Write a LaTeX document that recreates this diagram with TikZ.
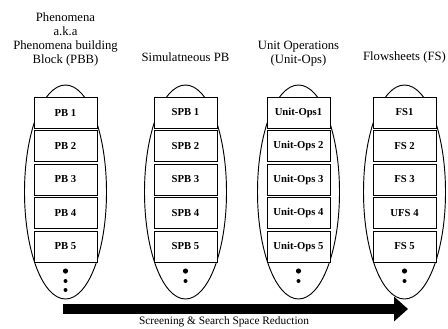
\documentclass[tikz,border=0pt]{standalone}
\usepackage{fontspec}
\setmainfont{Liberation Serif}
\usetikzlibrary{shapes.geometric,arrows.meta}
\tikzset{
  group/.style={draw, ellipse, line width=0.7pt, minimum width=61.5pt, minimum height=160.5pt, inner sep=0pt},
  pbox/.style={draw, fill=white, line width=0.7pt, minimum width=47.25pt, minimum height=23.25pt, inner sep=0pt, font=\fontsize{8}{9}\selectfont\bfseries},
  title/.style={align=center, font=\fontsize{9.5}{10.5}\selectfont},
}
\begin{document}
\begin{tikzpicture}[x=0.75pt,y=-0.75pt]
      \useasboundingbox (0,0) rectangle (448,328);
      % Phenomena building blocks
      \node[title] (t1) at (65.5,39) {Phenomena\\a.k.a\\Phenomena building\\Block (PBB)};
      \node[group] (e1) at (65.5,192) {};
      \foreach \lab [count=\i] in {PB 1,PB 2,PB 3,PB 4,PB 5}
        \node[pbox] (pb\i) at (65.5,79+\i*33.5) {\lab};
      \fill (65.5,271) circle (2.6);
      \fill (65.5,281) circle (2);
      \fill (65.5,290) circle (2);
      % Simultaneous PB
      \node[title] (t2) at (185.5,57) {Simulatneous PB};
      \node[group] (e2) at (185.5,192) {};
      \foreach \lab [count=\i] in {SPB 1,SPB 2,SPB 3,SPB 4,SPB 5}
        \node[pbox] (spb\i) at (185.5,79+\i*33.5) {\lab};
      \fill (185.5,271) circle (2.6);
      \fill (185.5,281) circle (2);
      % Unit operations
      \node[title] (t3) at (298.5,54) {Unit Operations\\(Unit-Ops)};
      \node[group] (e3) at (298.5,192) {};
      \foreach \lab [count=\i] in {Unit-Ops1,Unit-Ops 2,Unit-Ops 3,Unit-Ops 4,Unit-Ops 5}
        \node[pbox] (uo\i) at (298.5,79+\i*33.5) {\lab};
      \fill (298.5,271) circle (2.6);
      \fill (298.5,281) circle (2);
      % Flowsheets
      \node[title] (t4) at (404.5,57) {Flowsheets (FS)};
      \node[group] (e4) at (404.5,192) {};
      \foreach \lab [count=\i] in {FS1,FS 2,FS 3,UFS 4,FS 5}
        \node[pbox] (fs\i) at (404.5,79+\i*33.5) {\lab};
      \fill (404.5,271) circle (2.6);
      \fill (404.5,281) circle (2);
      % Screening arrow
      \coordinate (arrS) at (63,309);
      \coordinate (arrE) at (408,309);
      \draw[line width=7.5pt, -{Triangle[length=10.5pt,width=18pt]}] (arrS) -- (arrE);
      \node[font=\fontsize{8.5}{10}\selectfont] (lab) at (224,322) {Screening \& Search Space Reduction};
    \end{tikzpicture}
\end{document}
